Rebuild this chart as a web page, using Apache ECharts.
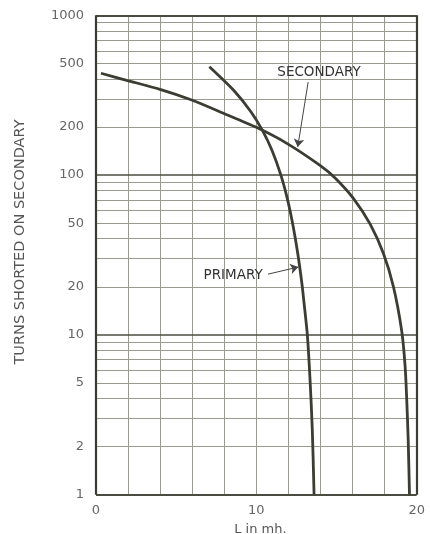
<!DOCTYPE html>
<html>
<head>
<meta charset="utf-8">
<script src="https://cdn.jsdelivr.net/npm/echarts@6/dist/echarts.min.js"></script>
<style>html,body{margin:0;padding:0;background:#fff;}#c{width:430px;height:534px;}</style>
</head>
<body>
<div id="c"></div>
<script>
// ---- data ----
const secondary = [[0.31,434],[1.91,392],[3.99,344],[5.97,295],[7.94,244],[10.0,199],[11.9,158],[13.97,115],[14.91,96],[16.05,71.6],[17.09,49.5],[17.92,32.4],[18.55,20],[19.07,10.5],[19.28,6.3],[19.38,3.9],[19.47,2.2],[19.55,1]];
const primary = [[7.07,477],[8.57,341],[9.65,250],[10.37,191],[10.96,144],[11.53,100],[11.95,70],[12.30,47.5],[12.58,32.4],[12.84,21],[12.97,16],[13.18,10],[13.35,5.2],[13.49,2.54],[13.6,1]];
const yTickLabels = [1,2,5,10,20,50,100,200,500,1000];
const xTickLabels = [0,10,20];
const minorGrid = [2,3,4,5,6,7,8,9,20,30,40,50,60,70,80,90,200,300,400,500,600,700,800,900];
const majorGrid = [1,10,100,1000];
const secondaryNote = {text:'SECONDARY', at:[13.91,441], from:[13.23,382], to:[12.58,150]};
const primaryNote = {text:'PRIMARY', at:[8.55,23.7], from:[10.73,24.0], to:[12.62,26.6]};

const ink = '#3b3d33';
const font = 'DejaVu Sans';
const chart = echarts.init(document.getElementById('c'));
chart.setOption({
  backgroundColor:'#fff',
  animation:false,
  grid:{left:96, right:13.3, top:15.3, bottom:39.3, outerBoundsMode:'none', containLabel:false},
  xAxis:{type:'value', min:0, max:20, interval:2,
    name:'L in mh.', nameLocation:'middle', nameGap:28,
    nameTextStyle:{fontFamily:font, fontSize:13, color:'#555', padding:[0,0,0,8]},
    axisLine:{show:false}, axisTick:{show:false},
    axisLabel:{fontFamily:font, fontSize:13, color:'#666', margin:9,
      formatter:v=> xTickLabels.includes(v) ? String(v) : ''},
    splitLine:{show:true, lineStyle:{color:'#9a9b90', width:1}}
  },
  yAxis:{type:'log', logBase:10, min:1, max:1000,
    name:'TURNS SHORTED ON SECONDARY', nameLocation:'middle', nameGap:68,
    nameTextStyle:{fontFamily:font, fontSize:14.5, color:'#555', padding:[0,0,0,26]},
    axisLine:{show:false}, axisTick:{show:false}, axisLabel:{show:false},
    splitLine:{show:false}
  },
  series:[
    {type:'line', data:[], silent:true,
      markLine:{silent:true, symbol:'none', animation:false,
        label:{show:true, position:'start', distance:12, fontFamily:font, fontSize:13, color:'#666',
          formatter:p=> yTickLabels.includes(p.value) ? String(p.value) : ''},
        data: minorGrid.map(v=>({yAxis:v, lineStyle:{color:'#9a9b90', width:1, type:'solid'}}))
          .concat(majorGrid.map(v=>({yAxis:v, lineStyle:{color:'#4a4c42', width:(v===1||v===1000)?2:1.6, type:'solid'}})))
      }
    },
    {type:'line', data:[], silent:true,
      markLine:{silent:true, symbol:'none', label:{show:false},
        data:[{xAxis:0, lineStyle:{color:'#3b3d33', width:2.2, type:'solid'}},
              {xAxis:20, lineStyle:{color:'#3b3d33', width:2.2, type:'solid'}}]}
    },
    {name:'SECONDARY', type:'line', data:secondary, smooth:0.25, showSymbol:false,
      lineStyle:{color:ink, width:2.8}, z:5,
      markPoint:{symbol:'circle', symbolSize:0, label:{show:true, formatter:secondaryNote.text, fontFamily:font, fontSize:13.5, color:'#333', position:'inside'},
        data:[{coord:secondaryNote.at}]},
      markLine:{symbol:['none','arrow'], symbolSize:8, label:{show:false}, lineStyle:{color:'#444', width:1, type:'solid'},
        data:[[{coord:secondaryNote.from},{coord:secondaryNote.to}]]}
    },
    {name:'PRIMARY', type:'line', data:primary, smooth:0.25, showSymbol:false,
      lineStyle:{color:ink, width:2.8}, z:5,
      markPoint:{symbol:'circle', symbolSize:0, label:{show:true, formatter:primaryNote.text, fontFamily:font, fontSize:13.5, color:'#333', position:'inside'},
        data:[{coord:primaryNote.at}]},
      markLine:{symbol:['none','arrow'], symbolSize:8, label:{show:false}, lineStyle:{color:'#444', width:1, type:'solid'},
        data:[[{coord:primaryNote.from},{coord:primaryNote.to}]]}
    }
  ]
});
</script>
</body>
</html>
